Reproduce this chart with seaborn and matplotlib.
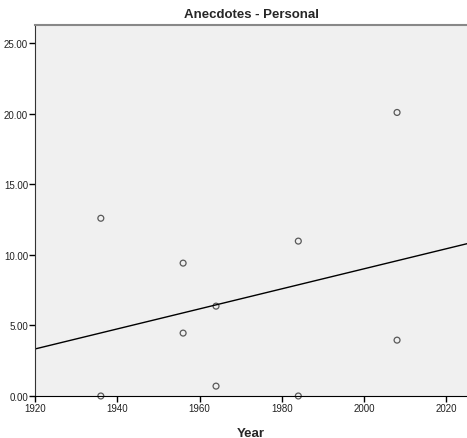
import matplotlib
matplotlib.use("Agg")
import matplotlib.pyplot as plt
import seaborn as sns
import pandas as pd

years = [1936, 1936, 1956, 1956, 1964, 1964, 1984, 1984, 2008, 2008]
values = [12.6, 0.0, 9.42, 4.46, 6.37, 0.7, 10.98, 0.0, 20.1, 3.96]
x_ticks = [1920, 1940, 1960, 1980, 2000, 2020]
y_ticks = [0, 5, 10, 15, 20, 25]

df = pd.DataFrame({"Year": years, "Value": values})

sns.set_style("white")
plt.rcParams['font.family'] = ['Liberation Sans Narrow', 'Liberation Sans', 'DejaVu Sans']

fig = plt.figure(figsize=(4.67, 4.39), dpi=100)
ax = fig.add_axes([35/467, 42/439, 432/467, 371/439])
ax.set_facecolor("#F0F0F0")
ax.set_xlim(1920, 2025)
ax.set_ylim(0, 26.3)

sns.regplot(data=df, x="Year", y="Value", ax=ax, ci=None, truncate=False,
            scatter_kws=dict(s=18, facecolors="none", edgecolors="#333333", linewidths=0.9, clip_on=False),
            line_kws=dict(color="black", lw=1.0))

ax.set_xlim(1920, 2025)
ax.set_ylim(0, 26.3)
ax.set_xticks(x_ticks)
ax.set_yticks(y_ticks)
ax.set_yticklabels([f"{v:.2f}" for v in y_ticks])
ax.tick_params(axis="both", direction="out", length=4, width=1, color="black",
               labelsize=7, labelcolor="#222222", pad=1, bottom=True, left=True)
ax.spines["right"].set_visible(False)
ax.spines["top"].set_color("#888888")
ax.spines["top"].set_linewidth(1.5)
ax.spines["left"].set_color("#333333")
ax.spines["bottom"].set_color("black")
ax.set_xlabel("Year", fontsize=9.5, fontweight="bold", labelpad=10)
ax.set_ylabel("")
ax.set_title("Anecdotes - Personal", fontsize=9.5, fontweight="bold", pad=6)

fig.savefig("out.png", dpi=100)
